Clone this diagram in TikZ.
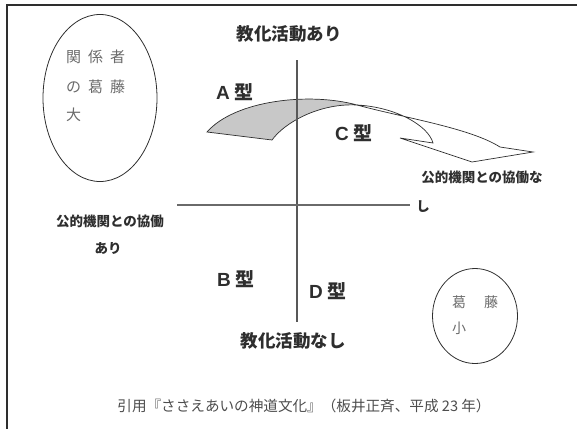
\documentclass[tikz,border=0pt]{standalone}
\usepackage{fontspec}
\usetikzlibrary{shapes.geometric}
\newfontfamily\cjk{Noto Sans CJK JP}
\newfontfamily\lat{Liberation Sans}
\definecolor{ink}{HTML}{2E2E2E}
\definecolor{soft}{HTML}{6A6A6A}
\definecolor{band}{HTML}{C8C8C8}
\begin{document}
\begin{tikzpicture}[x=1pt,y=-1pt,
  lbl/.style={font=\cjk\bfseries\fontsize{13.5}{13.5}\selectfont, text=ink, inner sep=0pt},
  axlbl/.style={font=\cjk\bfseries\fontsize{17.5}{17.5}\selectfont, text=ink, inner sep=0pt},
  typ/.style={font=\cjk\bfseries\fontsize{19}{19}\selectfont, text=ink, inner sep=0pt},
  thin/.style={font=\cjk\fontsize{15}{15}\selectfont, text=soft, inner sep=0pt, anchor=west},
  outline/.style={draw=ink, line width=0.8pt},
  ax/.style={draw=ink!80, line width=1.1pt}]
\useasboundingbox (0,0) rectangle (577,429);
% frame
\draw[ink, line width=1.5pt] (577,5) -- (7,5) -- (7,429);
% left ellipse
\node[ellipse, outline, minimum width=114pt, minimum height=167pt, inner sep=0pt] (big) at (100,98) {};
\node[thin] (b1) at (66,57) {関\hspace{7pt}係\hspace{7pt}者};
\node[thin] (b2) at (66,87) {の\hspace{7pt}葛\hspace{7pt}藤};
\node[thin] (b3) at (66,115) {大};
% right circle
\node[ellipse, outline, minimum width=85pt, minimum height=95pt, inner sep=0pt] (small) at (475,316) {};
\node[thin, font=\cjk\fontsize{14}{14}\selectfont] (s1) at (452,302) {葛\hspace{18pt}藤};
\node[thin, font=\cjk\fontsize{14}{14}\selectfont] (s2) at (452,328) {小};
% twisted arrow
\coordinate (pA) at (207,132);
\coordinate (pB) at (272,140);
\coordinate (pX) at (357,105);
\coordinate (pE) at (500,147);
\coordinate (pD) at (433,143);
\coordinate (pL) at (400,138);
\coordinate (pT) at (472,162);
\coordinate (pR) at (533,152);
\draw[outline, line width=0.7pt, fill=band] (pA) .. controls (235,100) and (310,92) .. (pX)
   .. controls (320,103) and (285,122) .. (pB) -- cycle;
\draw[outline, line width=0.7pt, fill=white] (pX) .. controls (405,118) and (470,128) .. (pE)
   -- (pR) -- (pT) -- (pL) -- (pD) .. controls (428,125) and (395,107) .. (pX);
% axes
\coordinate (vt) at (297,60);
\coordinate (vb) at (297,322);
\coordinate (hl) at (177,205);
\coordinate (hr) at (410,205);
\draw[ax] (vt) -- (vb);
\draw[ax, draw=soft] (hl) -- (hr);
% labels
\node[axlbl] (top) at (289,34) {教化活動あり};
\node[axlbl] (bot) at (293,341) {教化活動なし};
\node[typ] (ta) at (235,92) {{\lat\bfseries A}\hspace{5pt}型};
\node[typ] (tb) at (236,279) {{\lat\bfseries B}\hspace{5pt}型};
\node[typ] (tc) at (354,133) {{\lat\bfseries C}\hspace{5pt}型};
\node[typ] (td) at (328,291) {{\lat\bfseries D}\hspace{5pt}型};
\node[lbl] (l1) at (110,221) {公的機関との協働};
\node[lbl] (l2) at (108,248) {あり};
\node[lbl] (r1) at (482,177) {公的機関との協働な};
\node[lbl] (r2) at (423,207) {し};
% caption
\node[font=\cjk\fontsize{14.6}{14.6}\selectfont, text=ink!85, inner sep=0pt] (cap) at (304,406)
  {引用『ささえあいの神道文化』（板井正斉、平成 23 年）};
\end{tikzpicture}
\end{document}
